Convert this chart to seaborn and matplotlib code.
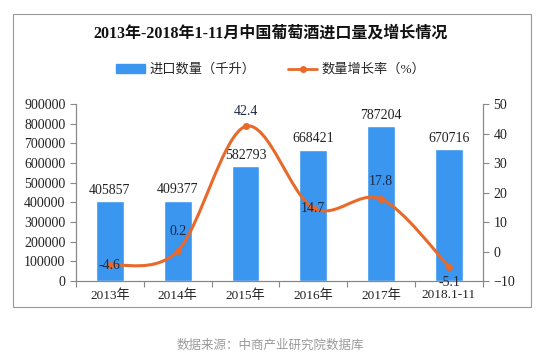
import numpy as np
import pandas as pd
import seaborn as sns
import matplotlib.pyplot as plt
from matplotlib.path import Path
from matplotlib.patches import PathPatch, Rectangle
from matplotlib.lines import Line2D

years = ["2013年", "2014年", "2015年", "2016年", "2017年", "2018.1-11"]
volume = [405857, 409377, 582793, 668421, 787204, 670716]
growth = [-4.6, 0.2, 42.4, 14.7, 17.8, -5.1]
# where each growth label sits relative to its point (points)
growth_offsets = [0, 9, 6, 0, 8, -7]

bar_color = "#3A96EE"
line_color = "#E8692A"

sns.set_theme(style="white")
plt.rcParams["font.family"] = ["Liberation Serif", "Noto Sans CJK SC", "DejaVu Sans"]

df = pd.DataFrame({"year": years, "volume": volume, "growth": growth})

fig = plt.figure(figsize=(5.41, 3.58), dpi=100)
ax = fig.add_axes([0.1405, 0.215, 0.752, 0.4945])

sns.barplot(data=df, x="year", y="volume", color=bar_color, width=0.41,
            saturation=1, ax=ax)
ax.set_xlim(-0.5, 5.5)
ax.set_ylim(0, 900000)
ax.set_yticks(range(0, 900001, 100000))
ax.set_xlabel("")
ax.set_ylabel("")
for i, v in enumerate(volume):
    ax.annotate(str(v), (i, v), xytext=(0, 3), textcoords="offset points",
                ha="center", va="bottom", fontsize=10, color="#222222")

ax2 = ax.twinx()
ax2.set_ylim(-10, 50)
ax2.set_yticks(range(-10, 51, 10))

# smoothed line (Catmull-Rom style bezier through the data points)
x = np.arange(len(growth), dtype=float)
y = np.array(growth, dtype=float)
verts = [(x[0], y[0])]
codes = [Path.MOVETO]
for i in range(len(x) - 1):
    p0 = (x[max(i - 1, 0)], y[max(i - 1, 0)])
    p1 = (x[i], y[i])
    p2 = (x[i + 1], y[i + 1])
    p3 = (x[min(i + 2, len(x) - 1)], y[min(i + 2, len(x) - 1)])
    c1 = (p1[0] + (p2[0] - p0[0]) / 6, p1[1] + (p2[1] - p0[1]) / 6)
    c2 = (p2[0] - (p3[0] - p1[0]) / 6, p2[1] - (p3[1] - p1[1]) / 6)
    verts += [c1, c2, p2]
    codes += [Path.CURVE4] * 3
ax2.add_patch(PathPatch(Path(verts, codes), fill=False, edgecolor=line_color, lw=2.2))
sns.scatterplot(x=x, y=y, color=line_color, s=22, edgecolor=line_color, ax=ax2, zorder=3)

for i, g in enumerate(growth):
    off = growth_offsets[i]
    va = "center" if off == 0 else ("bottom" if off > 0 else "top")
    ax2.annotate(f"{g}", (i, g), xytext=(0, off), textcoords="offset points",
                 ha="center", va=va, fontsize=10, color="#1F2A44", zorder=4)

for a in (ax, ax2):
    for side in ["top"]:
        a.spines[side].set_visible(False)
    for side in ["left", "right", "bottom"]:
        a.spines[side].set_color("#888888")
        a.spines[side].set_linewidth(0.8)
    a.tick_params(colors="#222222", labelsize=10, length=4, width=0.8, color="#888888")
    a.grid(False)

ax.set_xticks(np.arange(-0.5, 6, 1), minor=True)
ax.tick_params(axis="x", which="major", length=0, pad=6, labelsize=9.5)
ax.tick_params(axis="x", which="minor", length=4, color="#888888", width=0.8, bottom=True)
ax.tick_params(axis="y", left=True)
ax2.tick_params(axis="y", right=True)

fig.text(0.5, 0.905, "2013年-2018年1-11月中国葡萄酒进口量及增长情况", ha="center",
         va="center", fontsize=11.5, fontweight="bold", color="#111111")

handles = [Rectangle((0, 0), 1, 1, color=bar_color),
           Line2D([0], [0], color=line_color, lw=2, marker="o", markersize=4)]
fig.legend(handles, ["进口数量（千升）", "数量增长率（%）"], loc="center",
           bbox_to_anchor=(0.5, 0.805), ncol=2, frameon=False, fontsize=9.5,
           handlelength=2.2, columnspacing=2.5, handletextpad=0.3)

fig.patches.append(Rectangle((13 / 541, 1 - 307 / 358), 518 / 541, 293 / 358,
                             transform=fig.transFigure, fill=False,
                             edgecolor="#999999", lw=0.8))

fig.text(0.5, 0.035, "数据来源：中商产业研究院数据库", ha="center", va="center",
         fontsize=9, color="#9a9a9a", style="italic",
         family=["Noto Sans CJK SC", "DejaVu Sans"])

fig.savefig("out.png", dpi=100)
